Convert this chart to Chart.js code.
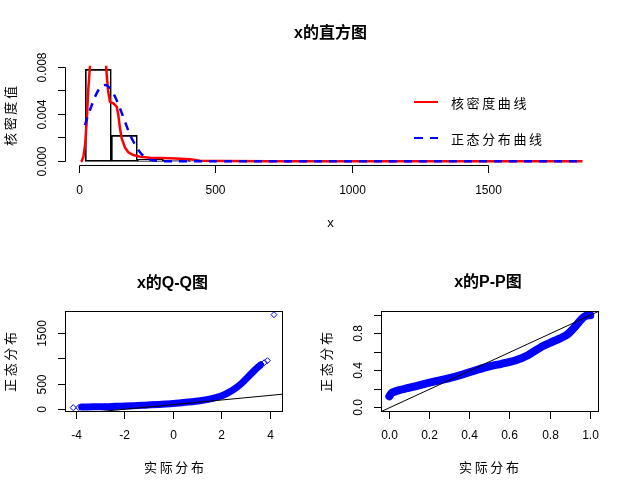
<!DOCTYPE html>
<html>
<head>
<meta charset="utf-8">
<script src="https://cdn.jsdelivr.net/npm/chart.js@4"></script>
<style>
body { margin: 0; background: #fff; }
#wrap { position: relative; width: 632px; height: 493px; overflow: hidden; background: #fff; }
canvas { position: absolute; left: 0; top: 0; }
.t { position: absolute; white-space: nowrap; color: #000; line-height: 1;
     font-family: "Liberation Sans", "Noto Sans CJK SC", sans-serif; transform: translate(-50%, -50%); }
.main { font-weight: bold; font-size: 16px; }
.lab { font-size: 13px; letter-spacing: 2.6px; padding-left: 2.6px; }
.rot { transform: translate(-50%, -50%) rotate(-90deg); }
.legtxt { position: absolute; white-space: nowrap; line-height: 1; font-size: 13px; letter-spacing: 2.6px;
          font-family: "Noto Sans CJK SC", sans-serif; transform: translate(0, -50%); }
.legline { position: absolute; width: 24px; height: 2.5px; }
</style>
</head>
<body>
<div id="wrap">
  <canvas id="histCanvas" width="632" height="493"></canvas>
  <canvas id="qqCanvas" width="632" height="493"></canvas>
  <canvas id="ppCanvas" width="632" height="493"></canvas>

  <div class="t main" style="left:330.5px; top:32.5px;">x的直方图</div>
  <div class="t" style="left:330.5px; top:221.5px; font-size:13px;">x</div>
  <div class="t lab rot" style="left:9.7px; top:115.7px;">核密度值</div>
  <div class="legline" style="left:414px; top:100.5px; background:#FF0000;"></div>
  <div class="legtxt" style="left:451px; top:101.7px;">核密度曲线</div>
  <div class="legline" style="left:414px; top:136.8px; background:repeating-linear-gradient(to right, #0000FF 0 9px, transparent 9px 16px);"></div>
  <div class="legtxt" style="left:451px; top:138px;">正态分布曲线</div>

  <div class="t main" style="left:172.5px; top:282.5px;">x的Q-Q图</div>
  <div class="t lab" style="left:174px; top:467px;">实际分布</div>
  <div class="t lab rot" style="left:10.3px; top:361.5px;">正态分布</div>

  <div class="t main" style="left:488px; top:281.5px;">x的P-P图</div>
  <div class="t lab" style="left:489px; top:467px;">实际分布</div>
  <div class="t lab rot" style="left:325.8px; top:361.5px;">正态分布</div>
</div>
<script>
// histogram of x
const histBreaks = [22, 117, 213, 308, 404, 499, 595, 690, 786, 881, 977, 1072, 1168, 1263, 1359, 1454, 1550, 1645, 1741, 1836];
const histDensity = [0.00783, 0.00221, 0.00017, 0.00008, 0.00004, 0.00002, 0.00001, 0.00001, 0, 0, 0, 0, 0, 0, 0, 0, 0, 0, 0.00001];

// kernel density curve (red)
const kdeX = [5, 9, 15, 21, 27, 33, 39, 45, 60, 80, 95, 100.5, 106, 112.5, 124.7, 137, 143, 149, 155.5, 167.6, 179.7, 198, 222.6, 259, 332.6, 406, 442.6, 540, 700, 1000, 1300, 1600, 1845];
const kdeY = [0, 0.00003, 0.0004, 0.00139, 0.00337, 0.0062, 0.0081, 0.0098, 0.0108, 0.0106, 0.0092, 0.00734, 0.0059, 0.00507, 0.00494, 0.00465, 0.00394, 0.00281, 0.00196, 0.00116, 0.00077, 0.00054, 0.00039, 0.00031, 0.00026, 0.00017, 0.00005, 0.00003, 0.00001, 0.00001, 0, 0, 0];

// normal curve (blue dashed)
const normX = [21, 30, 39, 57.6, 76, 95, 110, 131, 149, 167.6, 186, 204, 222.6, 247, 284, 330, 400, 1845];
const normY = [0.00309, 0.0038, 0.00437, 0.0055, 0.00627, 0.0065, 0.0063, 0.0055, 0.00451, 0.00337, 0.00224, 0.00145, 0.00077, 0.00026, 0.00005, 0.00001, 0, 0];

// Q-Q plot
const qqX = [-3.78, -3.3, -2.82, -2.4, -1.99, -1.3, -0.48, 0.35, 1.03, 1.58, 2.0, 2.27, 2.54, 2.82, 3.09, 3.37, 3.58];
const qqY = [45, 48, 51, 58, 65, 79, 99, 131, 164, 210, 269, 329, 408, 515, 646, 780, 871];
const qqTailX = [-4.13, -3.9, 3.62, 3.75, 3.88, 4.15];
const qqTailY = [32, 34, 895, 923, 962, 1873];
const qqLineX = [-4.44, 4.51];
const qqLineY = [-110, 299];

// P-P plot
const ppX = [0.0, 0.012, 0.045, 0.095, 0.161, 0.227, 0.294, 0.36, 0.427, 0.493, 0.559, 0.626, 0.692, 0.758, 0.824, 0.882, 0.924, 0.957, 0.975, 0.99, 1.0];
const ppY = [0.124, 0.161, 0.189, 0.214, 0.25, 0.285, 0.317, 0.357, 0.403, 0.446, 0.475, 0.51, 0.571, 0.66, 0.725, 0.786, 0.875, 0.96, 0.99, 1.0, 1.0];
const ppLine = [-0.04, 1.04];

// tick values and labels
const histXTicks = [0, 500, 1000, 1500];
const histXLabels = ['0', '500', '1000', '1500'];
const histYTicks = [0, 0.002, 0.004, 0.006, 0.008];
const histYLabels = ['0.000', '', '0.004', '', '0.008'];
const qqXTicks = [-4, -2, 0, 2, 4];
const qqXLabels = ['-4', '-2', '0', '2', '4'];
const qqYTicks = [0, 500, 1000, 1500];
const qqYLabels = ['0', '500', '', '1500'];
const ppXTicks = [0, 0.2, 0.4, 0.6, 0.8, 1.0];
const ppXLabels = ['0.0', '0.2', '0.4', '0.6', '0.8', '1.0'];
const ppYTicks = [0, 0.2, 0.4, 0.6, 0.8, 1.0];
const ppYLabels = ['0.0', '', '0.4', '', '0.8', ''];

const TICK = 7.5;
const BLUE = '#0000FF';
const RED = '#FF0000';

const pts = (xs, ys) => xs.map((x, i) => ({ x: x, y: ys[i] }));

// base-R style axes: line from first to last tick, outward ticks, rotated y labels
function rAxes(cfg) {
    return {
        id: 'rAxes',
        afterDraw(chart) {
            const ctx = chart.ctx;
            const area = chart.chartArea;
            const xs = chart.scales.x, ys = chart.scales.y;
            const snap = v => Math.floor(v) + 0.5;
            const left = snap(area.left), bottom = snap(area.bottom);
            ctx.save();
            ctx.strokeStyle = '#000';
            ctx.lineWidth = 1;
            if (cfg.box) {
                const top = snap(area.top), right = snap(area.right);
                ctx.strokeRect(left, top, right - left, bottom - top);
            }
            const xp = cfg.xTicks.map(v => snap(xs.getPixelForValue(v)));
            const yp = cfg.yTicks.map(v => snap(ys.getPixelForValue(v)));
            ctx.beginPath();
            ctx.moveTo(xp[0], bottom);
            ctx.lineTo(xp[xp.length - 1], bottom);
            xp.forEach(p => { ctx.moveTo(p, bottom); ctx.lineTo(p, bottom + TICK); });
            ctx.moveTo(left, yp[0]);
            ctx.lineTo(left, yp[yp.length - 1]);
            yp.forEach(p => { ctx.moveTo(left, p); ctx.lineTo(left - TICK, p); });
            ctx.stroke();

            ctx.fillStyle = '#000';
            ctx.font = '12px "Liberation Sans", Arial, sans-serif';
            ctx.textAlign = 'center';
            ctx.textBaseline = 'middle';
            cfg.xLabels.forEach((t, i) => { if (t) ctx.fillText(t, xp[i], area.bottom + 24.5); });
            cfg.yLabels.forEach((t, i) => {
                if (!t) return;
                ctx.save();
                ctx.translate(area.left - 23, yp[i]);
                ctx.rotate(-Math.PI / 2);
                ctx.fillText(t, 0, 0);
                ctx.restore();
            });
            ctx.restore();
        }
    };
}

const baseOptions = (padding) => ({
    responsive: false,
    animation: false,
    events: [],
    layout: { padding: padding },
    plugins: { legend: { display: false }, tooltip: { enabled: false } }
});

// top panel: histogram + curves
const histOpts = baseOptions({ left: 65.7, top: 65.7, right: 36.7, bottom: 327.3 });
histOpts.scales = {
    x: { type: 'linear', display: false, offset: false, min: -50, max: 1892,
         afterBuildTicks: s => { s.ticks = histBreaks.map(v => ({ value: v })); } },
    y: { type: 'linear', display: false, min: -0.00037, max: 0.00814 }
};
new Chart(document.getElementById('histCanvas'), {
    type: 'bar',
    data: {
        datasets: [
            { type: 'line', label: '正态分布曲线', data: pts(normX, normY), borderColor: BLUE, borderWidth: 2.5,
              borderDash: [8, 7], pointRadius: 0, cubicInterpolationMode: 'monotone', clip: 0, order: 0 },
            { type: 'line', label: '核密度曲线', data: pts(kdeX, kdeY), borderColor: RED, borderWidth: 2.5,
              pointRadius: 0, tension: 0, clip: 0, order: 1 },
            { type: 'bar', label: 'x',
              data: histDensity.map((d, i) => ({ x: (histBreaks[i] + histBreaks[i + 1]) / 2, y: d })),
              backgroundColor: 'rgba(0,0,0,0)', borderColor: '#000', borderWidth: 1, borderSkipped: false,
              barPercentage: 1, categoryPercentage: 1, order: 2 }
        ]
    },
    options: histOpts,
    plugins: [rAxes({ box: false, xTicks: histXTicks, xLabels: histXLabels, yTicks: histYTicks, yLabels: histYLabels })]
});

// bottom left: Q-Q plot
const qqOpts = baseOptions({ left: 65.7, top: 311.5, right: 349.3, bottom: 81.5 });
qqOpts.scales = {
    x: { type: 'linear', display: false, min: -4.44, max: 4.51 },
    y: { type: 'linear', display: false, min: -44, max: 1936 }
};
new Chart(document.getElementById('qqCanvas'), {
    type: 'scatter',
    data: {
        datasets: [
            { data: pts(qqLineX, qqLineY), showLine: true, borderColor: '#000', borderWidth: 1,
              pointRadius: 0, clip: 0, order: 0 },
            { data: pts(qqX, qqY), showLine: true, borderColor: BLUE, borderWidth: 7,
              borderCapStyle: 'round', borderJoinStyle: 'round', tension: 0.3,
              pointStyle: 'rectRot', pointRadius: 3, pointBorderColor: BLUE, pointBorderWidth: 1,
              pointBackgroundColor: 'rgba(0,0,0,0)', clip: 0, order: 1 },
            { data: pts(qqTailX, qqTailY), showLine: false,
              pointStyle: 'rectRot', pointRadius: 3, pointBorderColor: BLUE, pointBorderWidth: 1,
              pointBackgroundColor: 'rgba(0,0,0,0)', clip: 0, order: 1 }
        ]
    },
    options: qqOpts,
    plugins: [rAxes({ box: true, xTicks: qqXTicks, xLabels: qqXLabels, yTicks: qqYTicks, yLabels: qqYLabels })]
});

// bottom right: P-P plot
const ppOpts = baseOptions({ left: 381.3, top: 311.5, right: 33.7, bottom: 81.5 });
ppOpts.scales = {
    x: { type: 'linear', display: false, min: -0.04, max: 1.04 },
    y: { type: 'linear', display: false, min: -0.04, max: 1.04 }
};
new Chart(document.getElementById('ppCanvas'), {
    type: 'scatter',
    data: {
        datasets: [
            { data: pts(ppLine, ppLine), showLine: true, borderColor: '#000', borderWidth: 1,
              pointRadius: 0, clip: 0, order: 0 },
            { data: pts(ppX, ppY), showLine: true, borderColor: BLUE, borderWidth: 8,
              borderCapStyle: 'round', borderJoinStyle: 'round', tension: 0.3,
              pointRadius: 3.5, pointBackgroundColor: BLUE, pointBorderColor: BLUE, pointBorderWidth: 0,
              clip: 0, order: 1 }
        ]
    },
    options: ppOpts,
    plugins: [rAxes({ box: true, xTicks: ppXTicks, xLabels: ppXLabels, yTicks: ppYTicks, yLabels: ppYLabels })]
});
</script>
</body>
</html>
